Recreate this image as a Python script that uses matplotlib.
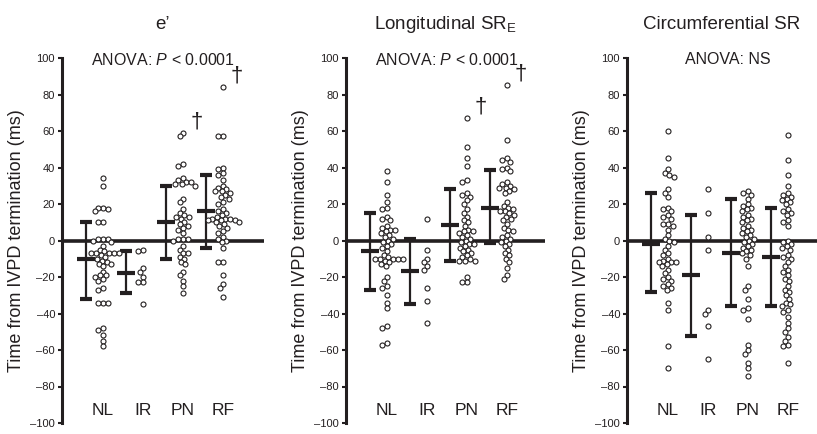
import numpy as np
import matplotlib
matplotlib.use("Agg")
import matplotlib.pyplot as plt

plt.rcParams['font.family'] = ['Liberation Sans', 'DejaVu Sans']
plt.rcParams['mathtext.fontset'] = 'custom'
plt.rcParams['mathtext.rm'] = 'Liberation Sans'
plt.rcParams['mathtext.it'] = 'Liberation Sans:italic'

INK = '#231f20'

groups = ['NL', 'IR', 'PN', 'RF']
titles = ["e\u2019", "Longitudinal SR$_\\mathregular{E}$", "Circumferential SR"]
anova = ["ANOVA: $\\it{P}$ < 0.0001", "ANOVA: $\\it{P}$ < 0.0001", "ANOVA: NS"]

# e' panel
ep_nl = [34, 30, 18, 18, 17, 16, 10, 10, 1, 1, 1, 0, -1, -3, -5, -6, -7, -7, -7, -7,
         -7, -8, -9, -10, -11, -12, -13, -13, -14, -17, -19, -19, -20, -21, -22, -26,
         -27, -34, -34, -34, -48, -49, -52, -55, -58]
ep_ir = [-5, -6, -15, -17, -20, -23, -23, -35]
ep_pn = [59, 57, 42, 41, 34, 33, 32, 32, 31, 31, 30, 23, 21, 17, 15, 14, 13, 13, 12,
         10, 9, 8, 7, 6, 4, 1, 1, 1, 0, -3, -5, -7, -7, -9, -10, -12, -13, -17, -19,
         -22, -25, -29]
ep_rf = [84, 57, 57, 40, 39, 37, 36, 33, 30, 29, 28, 27, 27, 26, 25, 24, 23, 21, 20,
         17, 16, 15, 14, 13, 12, 12, 12, 11, 11, 11, 10, 10, 9, 8, 7, 5, 4, 2, 1, 0,
         -1, -4, -12, -12, -19, -24, -26, -31]
ep_mean = [-10, -18, 10, 16]
ep_hi = [10, -6, 30, 36]
ep_lo = [-32, -29, -10, -4]

# longitudinal SR_E panel
ls_nl = [38, 32, 25, 21, 18, 17, 13, 12, 11, 8, 7, 6, 6, 5, 4, 3, 2, 1, 0, -1, -2,
         -3, -4, -6, -8, -9, -10, -10, -10, -10, -10, -11, -12, -13, -14, -20, -22,
         -25, -26, -30, -34, -37, -47, -48, -56, -57]
ls_ir = [12, -5, -10, -12, -14, -16, -26, -33, -45]
ls_pn = [67, 51, 45, 41, 33, 32, 26, 25, 24, 22, 20, 17, 15, 13, 11, 10, 8, 6, 5, 5,
         4, 3, 2, 1, 0, -1, -2, -2, -3, -4, -5, -6, -7, -8, -9, -10, -11, -11, -11,
         -20, -23, -23]
ls_rf = [85, 55, 45, 44, 43, 40, 39, 38, 32, 31, 30, 29, 29, 28, 27, 26, 21, 19, 18,
         17, 16, 16, 15, 14, 13, 12, 11, 9, 7, 6, 5, 3, 2, 1, 0, -1, -2, -3, -5, -7,
         -8, -10, -12, -15, -19, -21]
ls_mean = [-5.5, -16.5, 8.5, 18]
ls_hi = [15, 1, 28, 38.5]
ls_lo = [-27, -35, -11.5, -1.5]

# circumferential SR panel
cs_nl = [60, 45, 39, 37, 36, 35, 28, 26, 24, 18, 17, 16, 14, 13, 12, 9, 9, 8, 6, 3,
         1, 0, -1, -3, -5, -7, -8, -10, -11, -12, -12, -12, -13, -14, -16, -18, -20,
         -21, -22, -24, -25, -26, -27, -34, -38, -58, -70]
cs_ir = [28, 15, 2, -5, -38, -40, -47, -65]
cs_pn = [27, 26, 25, 23, 20, 19, 18, 17, 16, 14, 13, 12, 11, 10, 8, 7, 6, 5, 4, 3,
         2, 1, 0, -1, -2, -3, -4, -5, -6, -7, -8, -10, -14, -25, -27, -32, -37, -38,
         -43, -57, -60, -62, -67, -70, -74]
cs_rf = [58, 44, 36, 30, 26, 25, 24, 23, 22, 21, 20, 17, 16, 15, 14, 11, 10, 8, 0,
         -1, -2, -3, -4, -5, -8, -9, -10, -12, -14, -16, -17, -19, -21, -22, -25,
         -27, -28, -30, -32, -34, -35, -36, -38, -39, -42, -45, -48, -50, -53, -55,
         -57, -58, -67]
cs_mean = [-2, -19, -7, -9]
cs_hi = [26, 14, 22.7, 17.8]
cs_lo = [-28, -52.5, -36, -36]

# which groups get a dagger in each panel
daggers = [['PN', 'RF'], ['PN', 'RF'], []]

panels = [
    ([ep_nl, ep_ir, ep_pn, ep_rf], ep_mean, ep_hi, ep_lo),
    ([ls_nl, ls_ir, ls_pn, ls_rf], ls_mean, ls_hi, ls_lo),
    ([cs_nl, cs_ir, cs_pn, cs_rf], cs_mean, cs_hi, cs_lo),
]

W, H = 817, 434
PX_X = 40.0              # pixels per category unit
PX_Y = 365.0 / 200.0     # pixels per ms
DOT = 5.0                # dot diameter in pixels


def swarm_offsets(vals):
    # simple beeswarm in pixel space, returns x offsets in category units
    vals = np.asarray(vals, dtype=float)
    xs = np.zeros(len(vals))
    placed = []
    for i in np.argsort(-vals, kind='stable'):
        y = vals[i] * PX_Y
        near = [(px, py) for px, py in placed if abs(py - y) < DOT]
        cands = [0.0]
        for px, py in near:
            dx = np.sqrt(DOT ** 2 - (py - y) ** 2)
            cands += [px + dx, px - dx]
        cands.sort(key=lambda c: (abs(c), c))
        for c in cands:
            if all((c - px) ** 2 + (y - py) ** 2 >= DOT ** 2 - 1e-6 for px, py in near):
                xs[i] = c
                placed.append((c, y))
                break
    return xs / PX_X


fig = plt.figure(figsize=(W / 100, H / 100), dpi=100)

lefts = [62, 346, 627]
widths = [202, 199, 190]
top_px, bot_px = 58, 423

for k, (data, mean, hi, lo) in enumerate(panels):
    ax = fig.add_axes([lefts[k] / W, 1 - bot_px / H, widths[k] / W, (bot_px - top_px) / H])
    ax.set_xlim(-0.025, -0.025 + widths[k] / PX_X)
    ax.set_ylim(-100, 100)

    ax.axhline(0, color=INK, lw=2.6, zorder=1)

    for j, vals in enumerate(data):
        pos = j + 1
        off = swarm_offsets(vals)
        ax.plot(pos + off, vals, 'o', ms=3.6, mfc='white', mec=INK, mew=0.8,
                zorder=3, clip_on=False)
        m = mean[j]
        ax.errorbar(pos - 0.43, m, yerr=[[m - lo[j]], [hi[j] - m]], fmt='_',
                    color=INK, ms=13, mew=3, elinewidth=1.6, capsize=4.5,
                    capthick=3, zorder=2)
        ax.text(pos, -93, groups[j], ha='center', va='center', fontsize=12.5, color=INK)
        if groups[j] in daggers[k]:
            ax.text(pos + 0.2, max(vals) + 6, '\u2020', ha='left', va='center',
                    fontsize=16, color=INK)

    ax.text(2.5, 99, anova[k], ha='center', va='center', fontsize=11.5, color=INK)
    ax.set_title(titles[k], fontsize=13.5, pad=21, color=INK)

    ax.set_yticks(np.arange(-100, 101, 20))
    ax.set_yticklabels([str(t).replace('-', '\u2013') for t in range(-100, 101, 20)])
    ax.set_xticks([])
    ax.tick_params(axis='y', length=3, width=1.5, labelsize=8, colors=INK, pad=2)
    for s in ['top', 'right', 'bottom']:
        ax.spines[s].set_visible(False)
    ax.spines['left'].set_linewidth(2.2)
    ax.spines['left'].set_color(INK)
    ax.set_ylabel("Time from IVPD termination (ms)", fontsize=13, color=INK, labelpad=4)
    ax.patch.set_alpha(0)

fig.savefig("out.png", dpi=100)
